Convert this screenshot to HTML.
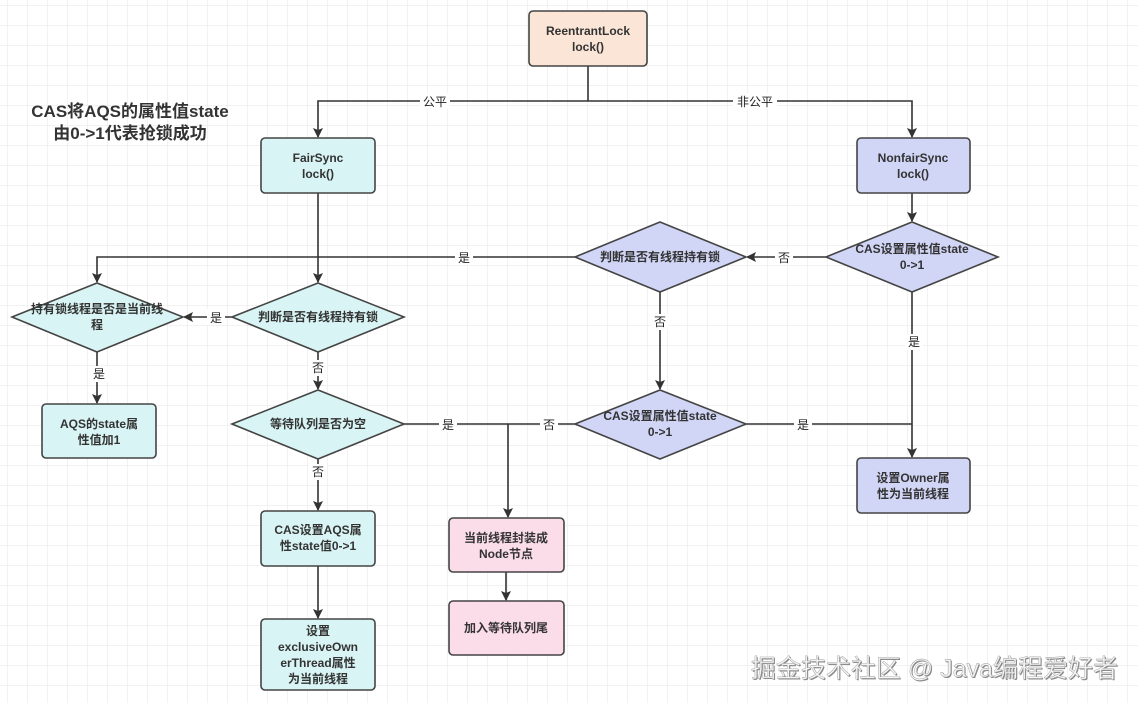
<!DOCTYPE html>
<html><head><meta charset="utf-8"><style>
html,body{margin:0;padding:0;background:#fff;}
svg{display:block;}
text{font-family:"Liberation Sans","Noto Sans CJK SC",sans-serif;}
</style></head><body>
<svg width="1138" height="703" viewBox="0 0 1138 703" xmlns="http://www.w3.org/2000/svg">
<defs>
<pattern id="g" width="20" height="20" patternUnits="userSpaceOnUse" x="8" y="6">
<path d="M20 0V20M0 20H20" fill="none" stroke="#e6e6e6" stroke-width="1"/>
</pattern>
<marker id="a" markerWidth="10" markerHeight="10" refX="9" refY="5" orient="auto" markerUnits="userSpaceOnUse">
<path d="M0 0L10 5L0 10L2 5Z" fill="#333"/>
</marker>
</defs>
<rect width="1138" height="703" fill="#fff"/>
<rect width="1138" height="703" fill="url(#g)"/>

<g stroke="#333" stroke-width="1.6" fill="none">
<path d="M588 66V101"/>
<path d="M588 101H318V137" marker-end="url(#a)"/>
<path d="M588 101H912V137" marker-end="url(#a)"/>
<path d="M912 193V221" marker-end="url(#a)"/>
<path d="M826 257H747" marker-end="url(#a)"/>
<path d="M575 257H97V282" marker-end="url(#a)"/>
<path d="M318 193V282" marker-end="url(#a)"/>
<path d="M232 317H184" marker-end="url(#a)"/>
<path d="M97 352V403" marker-end="url(#a)"/>
<path d="M318 352V389" marker-end="url(#a)"/>
<path d="M660 292V389" marker-end="url(#a)"/>
<path d="M912 292V457" marker-end="url(#a)"/>
<path d="M746 424H912"/>
<path d="M404 424H575"/>
<path d="M508 424V517" marker-end="url(#a)"/>
<path d="M318 459V510" marker-end="url(#a)"/>
<path d="M318 566V618" marker-end="url(#a)"/>
<path d="M506 572V600" marker-end="url(#a)"/>
</g>

<g stroke="#444" stroke-width="1.6">
<rect x="529" y="11" width="118" height="55" rx="4" fill="#fbe5d6"/>
<rect x="261" y="138" width="114" height="55" rx="4" fill="#d9f4f4"/>
<rect x="857" y="138" width="113" height="55" rx="4" fill="#d1d5f6"/>
<polygon points="826,257 912,222 998,257 912,292" fill="#d1d5f6"/>
<polygon points="575,257 660,222 746,257 660,292" fill="#d1d5f6"/>
<polygon points="12,317 97,283 183,317 97,352" fill="#d9f4f4"/>
<polygon points="232,317 318,283 404,317 318,352" fill="#d9f4f4"/>
<rect x="42" y="404" width="114" height="54" rx="4" fill="#d9f4f4"/>
<polygon points="232,424 318,390 404,424 318,459" fill="#d9f4f4"/>
<polygon points="575,424 660,390 746,424 660,459" fill="#d1d5f6"/>
<rect x="857" y="458" width="113" height="55" rx="4" fill="#d1d5f6"/>
<rect x="261" y="511" width="114" height="55" rx="4" fill="#d9f4f4"/>
<rect x="261" y="619" width="114" height="71" rx="4" fill="#d9f4f4"/>
<rect x="449" y="518" width="115" height="54" rx="4" fill="#fbdce9"/>
<rect x="449" y="601" width="115" height="54" rx="4" fill="#fbdce9"/>
</g>

<g font-size="12" fill="#222" text-anchor="middle">
<rect x="420" y="93" width="30" height="16" fill="#fff"/><text x="435" y="106">公平</text>
<rect x="733" y="93" width="44" height="16" fill="#fff"/><text x="755" y="106">非公平</text>
<rect x="775" y="249" width="18" height="16" fill="#fff"/><text x="784" y="262">否</text>
<rect x="455" y="249" width="18" height="16" fill="#fff"/><text x="464" y="262">是</text>
<rect x="207" y="309" width="18" height="16" fill="#fff"/><text x="216" y="322">是</text>
<rect x="90" y="366" width="18" height="16" fill="#fff"/><text x="99" y="378">是</text>
<rect x="309" y="360" width="18" height="16" fill="#fff"/><text x="318" y="372">否</text>
<rect x="651" y="314" width="18" height="16" fill="#fff"/><text x="660" y="326">否</text>
<rect x="905" y="334" width="18" height="16" fill="#fff"/><text x="914" y="346">是</text>
<rect x="439" y="416" width="18" height="16" fill="#fff"/><text x="448" y="429">是</text>
<rect x="540" y="416" width="18" height="16" fill="#fff"/><text x="549" y="429">否</text>
<rect x="794" y="416" width="18" height="16" fill="#fff"/><text x="803" y="429">是</text>
<rect x="309" y="464" width="18" height="16" fill="#fff"/><text x="318" y="476">否</text>
</g>

<g font-size="12" font-weight="bold" fill="#333" text-anchor="middle">
<text x="588" y="35">ReentrantLock</text><text x="588" y="51">lock()</text>
<text x="318" y="162">FairSync</text><text x="318" y="178">lock()</text>
<text x="913" y="162">NonfairSync</text><text x="913" y="178">lock()</text>
<text x="912" y="253">CAS设置属性值state</text><text x="912" y="269">0-&gt;1</text>
<text x="660" y="261">判断是否有线程持有锁</text>
<text x="97" y="313">持有锁线程是否是当前线</text><text x="97" y="329">程</text>
<text x="318" y="321">判断是否有线程持有锁</text>
<text x="99" y="428">AQS的state属</text><text x="99" y="444">性值加1</text>
<text x="318" y="428">等待队列是否为空</text>
<text x="660" y="420">CAS设置属性值state</text><text x="660" y="436">0-&gt;1</text>
<text x="913" y="482">设置Owner属</text><text x="913" y="498">性为当前线程</text>
<text x="318" y="534">CAS设置AQS属</text><text x="318" y="550">性state值0-&gt;1</text>
<text x="318" y="635">设置</text><text x="318" y="651">exclusiveOwn</text><text x="318" y="667">erThread属性</text><text x="318" y="683">为当前线程</text>
<text x="506" y="542">当前线程封装成</text><text x="506" y="558">Node节点</text>
<text x="506" y="632">加入等待队列尾</text>
</g>

<g font-size="17" font-weight="bold" fill="#333" text-anchor="middle">
<text x="130" y="117">CAS将AQS的属性值state</text>
<text x="130" y="139">由0-&gt;1代表抢锁成功</text>
</g>

<text x="1118" y="677" font-size="25" text-anchor="end" fill="#888" transform="translate(1,1)">掘金技术社区 @ Java编程爱好者</text>
<text x="1118" y="677" font-size="25" text-anchor="end" fill="#f4f4f4" stroke="#999" stroke-width="0.4">掘金技术社区 @ Java编程爱好者</text>
</svg>
</body></html>
